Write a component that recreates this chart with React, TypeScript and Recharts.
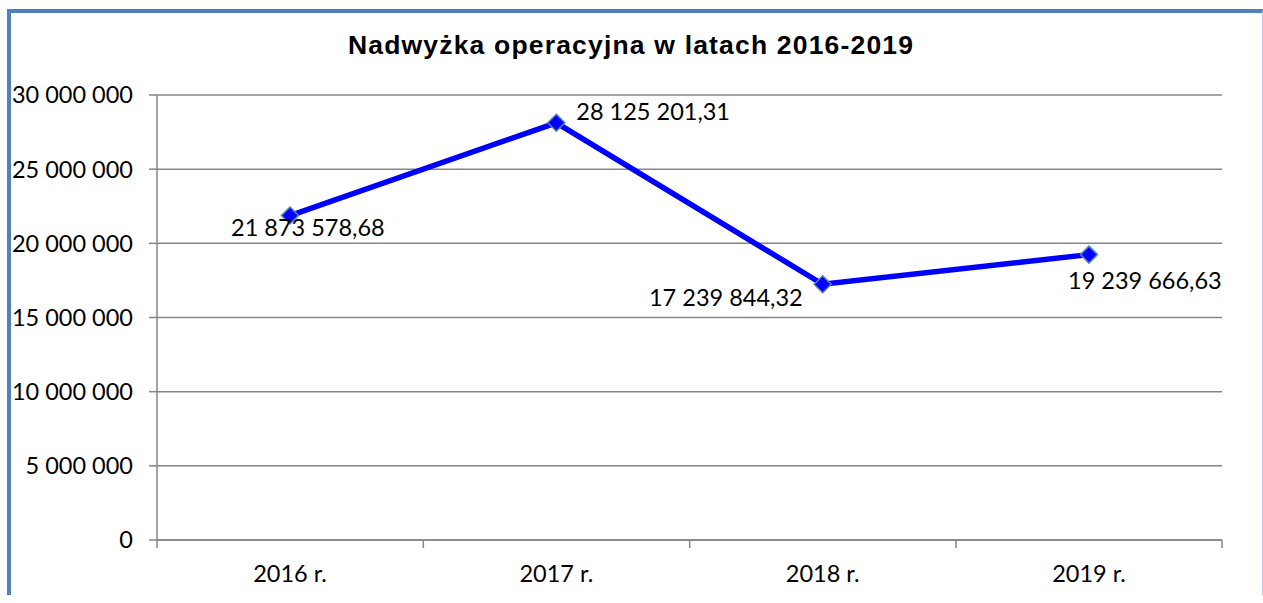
import React from 'react';
import { LineChart, Line, CartesianGrid, XAxis, YAxis, LabelList } from 'recharts';

const years = ['2016 r.', '2017 r.', '2018 r.', '2019 r.'];
const surplus = [21873578.68, 28125201.31, 17239844.32, 19239666.63];
const yTicks = [0, 5000000, 10000000, 15000000, 20000000, 25000000, 30000000];

const data = years.map((year, i) => ({ year, value: surplus[i] }));

// label placement per point, like the manual offsets in the original
const labelPos = [
  { dx: -59, dy: 20, anchor: 'start' },
  { dx: 20, dy: -3, anchor: 'start' },
  { dx: -20, dy: 22, anchor: 'end' },
  { dx: -21, dy: 34, anchor: 'start' },
];

const font = 'Lato, "Open Sans", sans-serif';
const gray = '#868686';
const halfBand = 133;

const spaced = (n: number) => String(Math.round(n)).replace(/\B(?=(\d{3})+(?!\d))/g, ' ');
const money = (n: number) => {
  const [a, b] = n.toFixed(2).split('.');
  return spaced(Number(a)) + ',' + b;
};

function Diamond(props: any) {
  const { cx, cy } = props;
  if (cx == null || cy == null) return null;
  const r = 8.5;
  return (
    <polygon
      points={`${cx},${cy - r} ${cx + r},${cy} ${cx},${cy + r} ${cx - r},${cy}`}
      fill="#0000ff"
      stroke="#4f81bd"
      strokeWidth={1.5}
    />
  );
}

function XTick(props: any) {
  const { x, y, payload, index } = props;
  return (
    <g>
      <line x1={x - halfBand} x2={x - halfBand} y1={y} y2={y + 8} stroke={gray} strokeWidth={1.5} />
      {index === years.length - 1 && (
        <line x1={x + halfBand} x2={x + halfBand} y1={y} y2={y + 8} stroke={gray} strokeWidth={1.5} />
      )}
      <text x={x} y={y + 42} textAnchor="middle" fontFamily={font} fontSize={23.5} fill="#000">
        {payload.value}
      </text>
    </g>
  );
}

function ValueLabel(props: any) {
  const { x, y, value, index } = props;
  const p = labelPos[index];
  return (
    <text x={x + p.dx} y={y + p.dy} textAnchor={p.anchor} fontFamily={font} fontSize={23.5} fill="#000">
      {money(value)}
    </text>
  );
}

export default function App() {
  return (
    <div
      style={{
        position: 'absolute',
        left: 7,
        top: 9,
        width: 1251,
        height: 582,
        borderTop: '4px solid #4f81bd',
        borderLeft: '4px solid #4f81bd',
        borderRight: '1px solid #b9cde5',
        background: '#fff',
      }}
    >
      <svg width={1251} height={60} style={{ position: 'absolute', left: 0, top: 0 }}>
        <text
          x={619.5}
          y={41}
          textAnchor="middle"
          fontFamily='"Liberation Sans", Arial, sans-serif'
          fontWeight="bold"
          fontSize={26.5}
          textLength={565}
          lengthAdjust="spacing"
          fill="#000"
        >
          Nadwyżka operacyjna w latach 2016-2019
        </text>
      </svg>
      <LineChart width={1251} height={582} data={data} margin={{ top: 82, right: 40, bottom: 15, left: 0 }}>
        <CartesianGrid vertical={false} stroke={gray} strokeWidth={1.5} />
        <XAxis
          dataKey="year"
          height={40}
          padding={{ left: halfBand, right: halfBand }}
          axisLine={{ stroke: gray, strokeWidth: 1.5 }}
          tickLine={false}
          tickSize={0}
          tickMargin={0}
          tick={<XTick />}
          interval={0}
        />
        <YAxis
          width={146}
          domain={[0, 30000000]}
          ticks={yTicks}
          tickFormatter={spaced}
          axisLine={{ stroke: gray, strokeWidth: 1.5 }}
          tickLine={{ stroke: gray, strokeWidth: 1.5 }}
          tickSize={8}
          tickMargin={16}
          tick={{ fontFamily: font, fontSize: 23.5, fill: '#000' }}
        />
        <Line
          dataKey="value"
          stroke="#0000ff"
          strokeWidth={5.5}
          dot={<Diamond />}
          activeDot={false}
          isAnimationActive={false}
        >
          <LabelList dataKey="value" content={<ValueLabel />} />
        </Line>
      </LineChart>
    </div>
  );
}
